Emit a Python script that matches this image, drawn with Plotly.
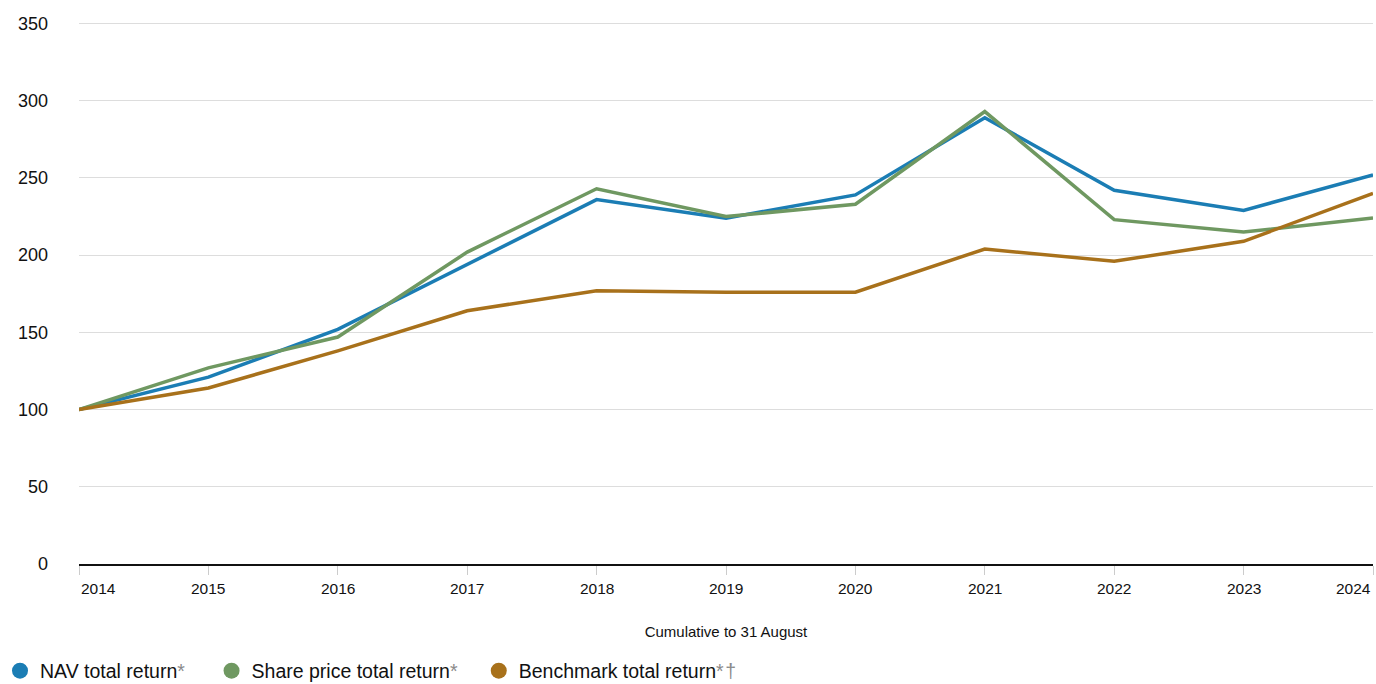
import plotly.graph_objects as go

years = [2014, 2015, 2016, 2017, 2018, 2019, 2020, 2021, 2022, 2023, 2024]
nav = [100, 121, 152, 194, 236, 224, 239, 289, 242, 229, 252]
share = [100, 127, 147, 202, 243, 225, 233, 293, 223, 215, 224]
bench = [100, 114, 138, 164, 177, 176, 176, 204, 196, 209, 240]

names = ["NAV total return", "Share price total return", "Benchmark total return"]
marks = ["*", "*", "*\u200a\u2020"]
pads = ["\u00a0" * 4, "\u00a0" * 3, ""]
colors = ["#1b7db4", "#6f9861", "#a8711b"]
y_ticks = [0, 50, 100, 150, 200, 250, 300, 350]

FONT = "Liberation Sans, Arial, sans-serif"

fig = go.Figure()
for vals, c in zip([nav, share, bench], colors):
    fig.add_trace(go.Scatter(x=years, y=vals, mode="lines",
                             line=dict(color=c, width=3.5),
                             showlegend=False, hoverinfo="x+y"))

# legend entries with round markers
for n, m, p, c in zip(names, marks, pads, colors):
    fig.add_trace(go.Scatter(x=[None], y=[None], mode="markers",
                             marker=dict(size=19, color=c),
                             name=n + "<span style='color:#8a8a8a'>" + m + "</span>" + p))

# x tick labels, first and last kept inside the plot
for i, yr in enumerate(years):
    anchor = "left" if i == 0 else ("right" if i == len(years) - 1 else "center")
    fig.add_annotation(x=yr, y=0, xref="x", yref="y", text=str(yr),
                       showarrow=False, xanchor=anchor, yanchor="top",
                       yshift=-14, font=dict(size=15.5, color="#111", family=FONT))

fig.update_layout(
    width=1376, height=684,
    paper_bgcolor="white", plot_bgcolor="white",
    margin=dict(l=79, r=3, t=22, b=120),
    font=dict(family=FONT, color="#111"),
    legend=dict(orientation="h", xref="container", yref="container",
                x=0.0, y=0.019, xanchor="left", yanchor="middle",
                font=dict(size=19.5, family=FONT, color="#111"),
                itemsizing="trace", tracegroupgap=0),
    xaxis=dict(range=[2014, 2024], tickvals=years, showticklabels=False,
               ticks="outside", ticklen=9, tickcolor="#cccccc", tickwidth=1,
               showgrid=False, zeroline=False, automargin=False,
               showline=True, linecolor="#111", linewidth=2,
               title=dict(text="Cumulative to 31 August", standoff=52,
                          font=dict(size=15, family=FONT, color="#111"))),
    yaxis=dict(range=[0, 351], tickvals=y_ticks, showgrid=True,
               gridcolor="#dddddd", gridwidth=1, zeroline=False,
               ticks="", ticklabelstandoff=30, automargin=False,
               tickfont=dict(size=18, family=FONT, color="#111")),
)

fig.write_html("out.html", config={"displayModeBar": False},
               post_script="document.body.style.margin='0';")
